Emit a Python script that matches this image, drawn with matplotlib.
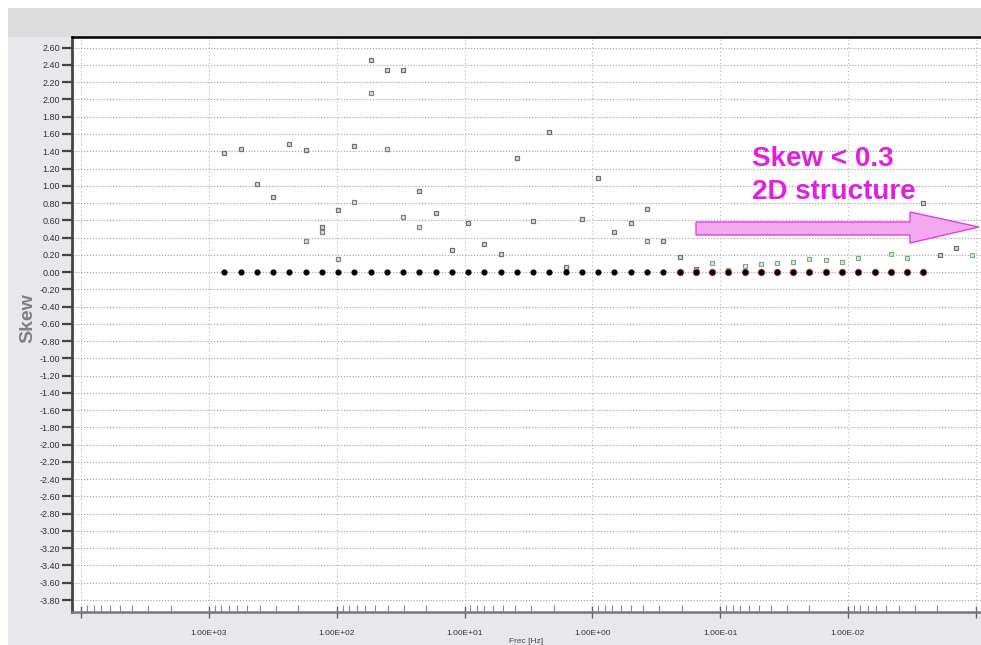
import numpy as np
import matplotlib
matplotlib.use("Agg")
import matplotlib.pyplot as plt
from matplotlib.patches import Rectangle, Polygon
from matplotlib.ticker import LogLocator, NullFormatter

# ---------------- data ----------------
freq = [758.6, 565.9, 422.3, 315.1, 235.1, 175.4, 130.9, 97.6, 72.9, 54.3,
        40.6, 30.3, 22.6, 16.8, 12.6, 9.38, 7.00, 5.22, 3.89, 2.91,
        2.17, 1.62, 1.21, 0.900, 0.672, 0.501, 0.374, 0.279, 0.208, 0.155,
        0.116, 0.0865, 0.0645, 0.0481, 0.0359, 0.0268, 0.0200, 0.0149, 0.0111, 0.00830,
        0.00619, 0.00462, 0.00345, 0.00257, 0.00192, 0.00143, 0.00107]
nan = np.nan
skew_gray1 = [1.38, 1.43, 1.02, 0.87, 1.48, 1.42, 0.52, 0.72, 1.46, 2.46,
              2.34, 2.34, 0.94, 0.68, 0.26, 0.57, 0.33, 0.21, 1.32, 0.59,
              1.62, 0.06, 0.61, 1.09, 0.47, 0.57, 0.73, 0.36, 0.18, 0.04,
              nan, nan, nan, nan, nan, nan, nan, nan, nan, nan,
              0.51, nan, nan, 0.80, 0.20, 0.28, nan]
skew_gray2 = [nan, nan, nan, nan, nan, 0.36, 0.47, 0.15, 0.81, 2.08,
              1.43, 0.64, 0.52, nan, nan, nan, nan, nan, nan, nan,
              nan, nan, nan, nan, nan, nan, 0.36, nan, nan, nan,
              nan, nan, nan, nan, nan, nan, nan, nan, nan, nan,
              nan, nan, nan, nan, nan, nan, nan]
skew_green = [nan] * 30 + [0.11, 0.02, 0.07, 0.09, 0.10, 0.12, 0.15, 0.14, 0.12, 0.16,
                            nan, 0.21, 0.16, nan, nan, nan, 0.20]
skew_black = [0.0] * 44
skew_red = [0.0] * 16          # last 16 frequencies of the black series
red_start = 28

yticks = [round(v, 2) + 0.0 for v in np.arange(2.6, -3.81, -0.2)]
yticklabels = [f"{abs(v):.2f}" if abs(v) < 1e-9 else f"{v:.2f}" for v in yticks]
xticks = [1e4, 1e3, 1e2, 1e1, 1e0, 1e-1, 1e-2, 1e-3]
xticklabels = ['', '1.00E+03', '1.00E+02', '1.00E+01', '1.00E+00', '1.00E-01', '1.00E-02', '']

# ---------------- figure ----------------
W, H = 981, 645
fig = plt.figure(figsize=(W / 100, H / 100), dpi=100, facecolor='white')

def fx(px):
    return px / W

def fy(py):
    return 1 - py / H

# background panels
fig.patches.append(Rectangle((fx(8), 0), 1 - fx(8), fy(8), transform=fig.transFigure,
                             facecolor='#e8e8ec', edgecolor='none', zorder=-10))
fig.patches.append(Rectangle((fx(8), fy(37)), 1 - fx(8), fy(8) - fy(37), transform=fig.transFigure,
                             facecolor='#dcdcdc', edgecolor='none', zorder=-9))

ax = fig.add_axes([fx(72), fy(612), 1 - fx(72), fy(37) - fy(612)])
ax.set_zorder(1)
ax.set_facecolor('white')
ax.set_xscale('log')
ax.set_xlim(10 ** 4.072, 10 ** -3.041)
ax.set_ylim(-3.939, 2.724)

# grid
ax.set_yticks(yticks)
ax.set_yticklabels(yticklabels, fontsize=6.5, color='#333333', family='Liberation Sans')
ax.set_xticks(xticks)
ax.set_xticklabels(xticklabels, fontsize=6, color='#333333', family='Liberation Sans')
ax.xaxis.set_minor_locator(LogLocator(base=10, subs=np.arange(2, 10), numticks=20))
ax.xaxis.set_minor_formatter(NullFormatter())
ax.grid(True, which='major', axis='y', color='#a0a0a0', linestyle=(0, (1, 1.6)), linewidth=0.8)
ax.grid(True, which='major', axis='x', color='#b8b8b8', linestyle=(0, (1, 2.5)), linewidth=0.8)

ax.tick_params(axis='y', which='major', direction='out', length=7, width=1.6,
               color='#444444', pad=1.5)
ax.tick_params(axis='x', which='major', direction='inout', length=8, width=1.0,
               color='#666666', pad=9)
ax.tick_params(axis='x', which='minor', direction='in', length=5, width=0.8,
               color='#888888')

ax.spines['right'].set_visible(False)
ax.spines['top'].set_color('black')
ax.spines['top'].set_linewidth(1.8)
ax.spines['left'].set_color('#444444')
ax.spines['left'].set_linewidth(2.0)
ax.spines['bottom'].set_color('#777777')
ax.spines['bottom'].set_linewidth(1.8)

# data
f = np.array(freq)
ax.plot(f, skew_green, linestyle='none', marker='s', markersize=3.2,
        markerfacecolor='#d6f0d0', markeredgecolor='#70b070', markeredgewidth=0.8, zorder=3)
ax.plot(f, skew_gray2, linestyle='none', marker='s', markersize=3.4,
        markerfacecolor='#e4e4e4', markeredgecolor='#808080', markeredgewidth=0.9, zorder=3)
ax.plot(f, skew_gray1, linestyle='none', marker='s', markersize=3.4,
        markerfacecolor='#dcdcdc', markeredgecolor='#707070', markeredgewidth=0.9, zorder=3)
ax.plot(f[red_start:red_start + len(skew_red)], skew_red, linestyle='none', marker='o',
        markersize=4.4, markerfacecolor='#ff5050', markeredgecolor='#ff7070', zorder=4)
ax.plot(f[:len(skew_black)], skew_black, linestyle='none', marker='o', markersize=3.4,
        markerfacecolor='black', markeredgecolor='black', zorder=5)

# labels
ax.set_xlabel('Frec [Hz]', fontsize=6, color='#444444', family='Liberation Sans', labelpad=1)
fig.text(fx(28), fy(318), 'Skew', rotation=90, fontsize=14, fontweight='bold',
         color='#808080', family='Liberation Sans', ha='center', va='center')

# annotation arrow
arrow_px = [(696, 222), (910, 222), (910, 212), (979, 227), (910, 243), (910, 235), (696, 235)]
fig.patches.append(Polygon([(fx(x), fy(y)) for x, y in arrow_px], closed=True,
                           transform=fig.transFigure, facecolor='#f4a8f0',
                           edgecolor='#e040e0', linewidth=1.0, zorder=6))
fig.text(fx(752), fy(166), 'Skew < 0.3', fontsize=20, fontweight='bold', color='#e020e0',
         family='Liberation Sans', ha='left', va='baseline', zorder=7)
fig.text(fx(752), fy(199), '2D structure', fontsize=20, fontweight='bold', color='#e020e0',
         family='Liberation Sans', ha='left', va='baseline', zorder=7)

fig.savefig('out.png', dpi=100, facecolor=fig.get_facecolor())
